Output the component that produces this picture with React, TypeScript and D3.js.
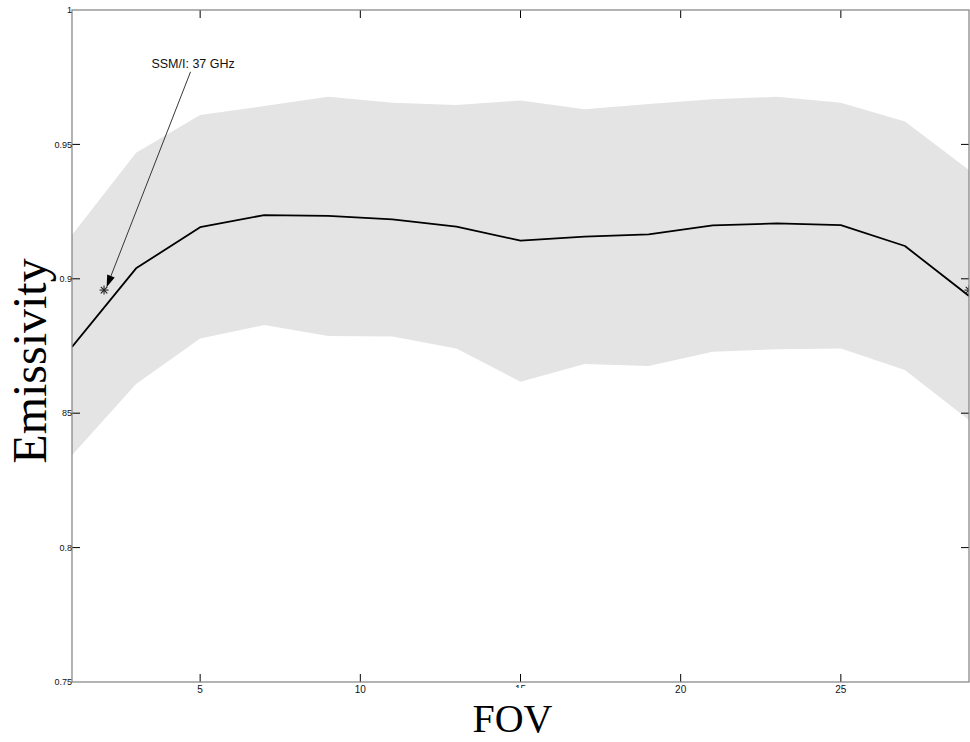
import React from "react";
import * as d3 from "d3";

const fov = [1, 3, 5, 7, 9, 11, 13, 15, 17, 19, 21, 23, 25, 27, 29];
const meanEmis = [0.8747, 0.9039, 0.9192, 0.9237, 0.9234, 0.9221, 0.9194, 0.9142, 0.9157, 0.9165, 0.9199, 0.9206, 0.92, 0.9122, 0.8936];
const upperEmis = [0.9163, 0.9469, 0.9609, 0.9643, 0.9677, 0.9655, 0.9647, 0.9663, 0.9631, 0.965, 0.9668, 0.9677, 0.9655, 0.9585, 0.9405];
const lowerEmis = [0.8344, 0.8609, 0.8778, 0.8828, 0.8787, 0.8785, 0.8741, 0.8617, 0.8683, 0.8676, 0.8729, 0.8738, 0.8741, 0.8661, 0.8475];
const markerFov = [2, 29];
const markerEmis = [0.8958, 0.8958];
const xTicks = [5, 10, 15, 20, 25];
const yTicks = [0.75, 0.8, 0.85, 0.9, 0.95, 1];
const yTickLabels = ["0.75", "0.8", "0.85", "0.9", "0.95", "1"];
const annotationText = "SSM/I: 37 GHz";
const annotationTextPos = [4.78, 0.9784];
const annotationStart = [4.7, 0.977];
const annotationTip = [2.08, 0.8969];

const W = 970;
const H = 742;
const L = 72, R = 969, T = 10, B = 682;

export default function App() {
  const x = d3.scaleLinear().domain([1, 29]).range([L, R]);
  const y = d3.scaleLinear().domain([0.75, 1]).range([B, T]);

  const band = d3
    .area<number>()
    .x((_, i) => x(fov[i]))
    .y0((_, i) => y(lowerEmis[i]))
    .y1((_, i) => y(upperEmis[i]))(fov.map((d) => d)) as string;
  const line = d3
    .line<number>()
    .x((_, i) => x(fov[i]))
    .y((_, i) => y(meanEmis[i]))(fov.map((d) => d)) as string;

  const tickFont = "'Liberation Sans', Arial, sans-serif";
  const axisColor = "#808080";
  const tickLen = 8;

  const ax0 = x(annotationStart[0]);
  const ay0 = y(annotationStart[1]);
  const ax1 = x(annotationTip[0]);
  const ay1 = y(annotationTip[1]);
  const ang = Math.atan2(ay1 - ay0, ax1 - ax0);
  const headLen = 12;
  const headW = 4;
  const bx = ax1 - headLen * Math.cos(ang);
  const by = ay1 - headLen * Math.sin(ang);
  const px = -Math.sin(ang) * headW;
  const py = Math.cos(ang) * headW;

  const star = (cx: number, cy: number, k: number) => {
    const s = 4.5;
    const d = s * 0.72;
    return (
      <g key={k} stroke="#222" strokeWidth={1.1}>
        <line x1={cx - s} y1={cy} x2={cx + s} y2={cy} />
        <line x1={cx} y1={cy - s} x2={cx} y2={cy + s} />
        <line x1={cx - d} y1={cy - d} x2={cx + d} y2={cy + d} />
        <line x1={cx - d} y1={cy + d} x2={cx + d} y2={cy - d} />
      </g>
    );
  };

  return (
    <svg
      width={W}
      height={H}
      style={{ position: "absolute", left: 0, top: 0, background: "#fff" }}
      xmlns="http://www.w3.org/2000/svg"
    >
      <rect x={0} y={0} width={W} height={H} fill="#fff" />
      <defs>
        <clipPath id="plotClip">
          <rect x={L} y={T} width={R - L} height={B - T} />
        </clipPath>
      </defs>
      <g clipPath="url(#plotClip)">
        <path d={band} fill="#e4e4e4" stroke="none" />
        <path d={line} fill="none" stroke="#000" strokeWidth={1.8} strokeLinejoin="round" />
        {markerFov.map((f, i) => star(x(f), y(markerEmis[i]), i))}
      </g>

      {/* annotation */}
      <line x1={ax0} y1={ay0} x2={bx} y2={by} stroke="#222" strokeWidth={0.9} />
      <path
        d={`M${ax1},${ay1} L${bx + px},${by + py} L${bx - px},${by - py} Z`}
        fill="#000"
      />
      <text
        x={x(annotationTextPos[0])}
        y={y(annotationTextPos[1])}
        textAnchor="middle"
        fontFamily={tickFont}
        fontSize={12.5}
        fill="#111"
      >
        {annotationText}
      </text>

      {/* ticks */}
      <g stroke="#000" strokeWidth={1}>
        {xTicks.map((t) => (
          <g key={"xt" + t}>
            <line x1={x(t)} y1={B} x2={x(t)} y2={B - tickLen} />
            <line x1={x(t)} y1={T} x2={x(t)} y2={T + tickLen} />
          </g>
        ))}
        {yTicks.slice(1, -1).map((t) => (
          <g key={"yt" + t}>
            <line x1={L} y1={y(t)} x2={L + tickLen} y2={y(t)} />
            <line x1={R} y1={y(t)} x2={R - tickLen} y2={y(t)} />
          </g>
        ))}
      </g>

      {/* axis box */}
      <rect x={L} y={T} width={R - L} height={B - T} fill="none" stroke={axisColor} strokeWidth={1.2} />

      {/* tick labels */}
      <g fontFamily={tickFont} fontSize={9} fill="#111">
        {yTicks.map((t, i) => (
          <text key={"yl" + t} x={L} y={y(t)} dy="0.35em" textAnchor="end">
            {yTickLabels[i]}
          </text>
        ))}
      </g>
      <g fontFamily={tickFont} fontSize={10} fill="#111">
        {xTicks.map((t) => (
          <text key={"xl" + t} x={x(t)} y={B + 11} textAnchor="middle">
            {t}
          </text>
        ))}
      </g>

      {/* axis labels with white backgrounds */}
      <rect x={462} y={688} width={112} height={54} fill="#fff" />
      <text
        x={(L + R) / 2 - 8}
        y={732}
        textAnchor="middle"
        fontFamily="'Liberation Serif', 'Times New Roman', serif"
        fontSize={40}
        fill="#000"
      >
        FOV
      </text>
      <rect x={8} y={296} width={54} height={176} fill="#fff" />
      <text
        transform={`translate(46, ${(T + B) / 2 + 15}) rotate(-90)`}
        textAnchor="middle"
        fontFamily="'Liberation Serif', 'Times New Roman', serif"
        fontSize={48}
        fill="#000"
      >
        Emissivity
      </text>
    </svg>
  );
}
